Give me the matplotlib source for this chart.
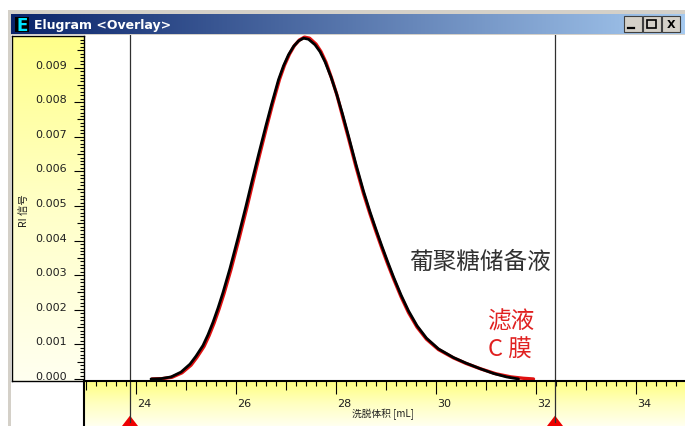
import numpy as np
import matplotlib.pyplot as plt
from matplotlib.patches import Rectangle, Polygon
import matplotlib.transforms as mtransforms

plt.rcParams['font.family'] = ['DejaVu Sans', 'Noto Sans CJK SC']
CJK = ['Noto Sans CJK SC', 'DejaVu Sans']

# elution volume [mL] / RI signal
stock_ml = [24.30, 24.50, 24.70, 24.90, 25.08, 25.20, 25.34, 25.44, 25.54, 25.64,
            25.74, 25.88, 26.04, 26.20, 26.33, 26.45, 26.60, 26.71, 26.85, 26.95,
            27.05, 27.15, 27.25, 27.35, 27.45, 27.58, 27.68, 27.78, 27.90, 28.01,
            28.13, 28.25, 28.40, 28.55, 28.68, 28.80, 28.91, 29.03, 29.15, 29.30,
            29.45, 29.62, 29.81, 30.05, 30.35, 30.60, 30.88, 31.15, 31.41, 31.65]
stock_ri = [0.0, 0.00001, 0.00006, 0.00020, 0.00043, 0.00066, 0.00097, 0.00128, 0.00164, 0.00205,
            0.00250, 0.00320, 0.00408, 0.00500, 0.00578, 0.00648, 0.00733, 0.00793, 0.00865, 0.00905,
            0.00937, 0.00961, 0.00977, 0.00985, 0.00982, 0.00966, 0.00946, 0.00917, 0.00873, 0.00825,
            0.00766, 0.00702, 0.00620, 0.00543, 0.00483, 0.00432, 0.00387, 0.00340, 0.00295, 0.00243,
            0.00197, 0.00154, 0.00118, 0.00087, 0.00062, 0.00046, 0.00030, 0.00016, 0.00006, 0.0]

filtrate_ml = [24.32, 24.52, 24.72, 24.92, 25.10, 25.22, 25.36, 25.46, 25.56, 25.66,
               25.76, 25.90, 26.06, 26.22, 26.35, 26.47, 26.62, 26.73, 26.87, 26.97,
               27.07, 27.17, 27.27, 27.37, 27.47, 27.60, 27.70, 27.80, 27.91, 28.02,
               28.13, 28.25, 28.40, 28.55, 28.68, 28.80, 28.91, 29.03, 29.15, 29.30,
               29.45, 29.62, 29.81, 30.05, 30.35, 30.60, 30.90, 31.20, 31.50, 31.75, 31.95]
filtrate_ri = [0.0, 0.00001, 0.00005, 0.00018, 0.00040, 0.00063, 0.00094, 0.00125, 0.00161, 0.00202,
               0.00247, 0.00317, 0.00405, 0.00497, 0.00576, 0.00647, 0.00733, 0.00794, 0.00866, 0.00907,
               0.00939, 0.00964, 0.00980, 0.00988, 0.00985, 0.00968, 0.00946, 0.00915, 0.00870, 0.00820,
               0.00760, 0.00696, 0.00613, 0.00536, 0.00477, 0.00426, 0.00381, 0.00334, 0.00290, 0.00238,
               0.00192, 0.00150, 0.00115, 0.00085, 0.00061, 0.00045, 0.00029, 0.00015, 0.00006, 0.00002, 0.0]

cursor_ml = [23.88, 32.38]
x_tick_values = [24, 26, 28, 30, 32, 34]
y_tick_labels = ['0.000', '0.001', '0.002', '0.003', '0.004', '0.005',
                 '0.006', '0.007', '0.008', '0.009']

W, H = 685, 427
XLIM = (22.96, 34.98)
YLIM = (-0.0000578, 0.009942)


def box(l, t, r, b):
    # pixel box (from top-left) -> figure fraction rect
    return [l / W, 1 - b / H, (r - l) / W, (b - t) / H]


fig = plt.figure(figsize=(W / 100, H / 100), dpi=100)
fig.patch.set_facecolor('white')

# window chrome in pixel coords
bg = fig.add_axes([0, 0, 1, 1], zorder=0)
bg.set_xlim(0, W)
bg.set_ylim(H, 0)
bg.axis('off')
bg.add_patch(Rectangle((8, 11), W - 8, H - 11, facecolor='#d4d0c8', edgecolor='none'))
bg.add_patch(Rectangle((11, 36), W - 11, H - 36, facecolor='white', edgecolor='none'))
grad = np.linspace(0, 1, 256)[None, :]
title_cmap = plt.matplotlib.colors.LinearSegmentedColormap.from_list(
    'tb', [(10 / 255, 36 / 255, 106 / 255), (166 / 255, 202 / 255, 240 / 255)])
bg.imshow(grad, extent=(11, W, 35, 15), aspect='auto', cmap=title_cmap, zorder=1)
bg.add_patch(Rectangle((15, 18), 14, 15, facecolor='black', edgecolor='none', zorder=2))
bg.text(22, 26, 'E', color='#00e5ff', fontsize=12, fontweight='bold',
        ha='center', va='center', zorder=3)
bg.text(34, 25.5, 'Elugram <Overlay>', color='white', fontsize=9, fontweight='bold',
        ha='left', va='center', zorder=3)
for bx in (624, 643, 662):
    bg.add_patch(Rectangle((bx, 17), 18, 16, facecolor='#d4d0c8', edgecolor='#404040',
                           lw=0.8, zorder=2))
bg.plot([628, 634], [29, 29], color='black', lw=1.6, zorder=3)
bg.add_patch(Rectangle((647, 21), 9, 8, facecolor='none', edgecolor='black', lw=1.2, zorder=3))
bg.text(671, 25.5, 'X', color='black', fontsize=8, fontweight='bold',
        ha='center', va='center', zorder=3)

# main plot area
ax = fig.add_axes(box(84, 36, W, 382), zorder=2)
ax.set_xlim(*XLIM)
ax.set_ylim(*YLIM)
ax.set_facecolor('white')
for s in ax.spines.values():
    s.set_visible(False)
ax.set_xticks([])
ax.set_yticks([])
ax.plot(filtrate_ml, filtrate_ri, color='#e01010', lw=2.4, solid_capstyle='round',
        solid_joinstyle='round')
ax.plot(stock_ml, stock_ri, color='black', lw=2.0, solid_capstyle='round',
        solid_joinstyle='round')
for c in cursor_ml:
    ax.axvline(c, color='#303030', lw=0.9)
ax.text(480, 262, '葡聚糖储备液', transform=bg.transData, family=CJK, fontsize=17,
        color='#303030', ha='center', va='center', zorder=5)
ax.text(512, 322, '滤液', transform=bg.transData, family=CJK, fontsize=17,
        color='#e02020', ha='center', va='center', zorder=5)
ax.text(510, 350, 'C 膜', transform=bg.transData, family=CJK, fontsize=17,
        color='#e02020', ha='center', va='center', zorder=5)

# y ruler panel
ay = fig.add_axes(box(12, 37, 84, 382), zorder=3)
ay.set_ylim(YLIM[0], YLIM[1] * (346 - 1) / 346 + YLIM[0] / 346)
ay.set_xlim(0, 1)
ycm = plt.matplotlib.colors.LinearSegmentedColormap.from_list(
    'yp', ['#fffff0', '#ffffc8', '#ffff8a'])
ay.imshow(np.linspace(0, 1, 256)[:, None], extent=(0, 1, 0, 1), transform=ay.transAxes,
          aspect='auto', cmap=ycm, origin='lower')
ay.set_xticks([])
ay.set_yticks([])
for s in ay.spines.values():
    s.set_color('black')
    s.set_linewidth(1.0)
ytr = mtransforms.blended_transform_factory(ay.transAxes, ay.transData)
yfine = np.arange(0, 0.00995, 0.0001)
for i, v in enumerate(yfine):
    ln = 10 if i % 10 == 0 else (7 if i % 5 == 0 else 4)
    ay.plot([1 - ln / 72, 1], [v, v], color='black', lw=0.8, transform=ytr,
            solid_capstyle='butt')
for i, lab in enumerate(y_tick_labels):
    ay.text(0.76, i * 0.001, lab, transform=ytr, fontsize=8, color='#202020',
            ha='right', va='baseline')
ay.text(24, 211, 'RI 信号', transform=bg.transData, family=CJK, fontsize=7.5,
        rotation=90, ha='center', va='center', color='#202020', zorder=5)

# x ruler panel
axx = fig.add_axes(box(84, 382, W, H), zorder=3)
axx.set_xlim(*XLIM)
axx.set_ylim(0, 1)
xcm = plt.matplotlib.colors.LinearSegmentedColormap.from_list(
    'xp', ['#fffff0', '#ffffc0', '#ffff80'])
axx.imshow(np.linspace(0, 1, 256)[:, None], extent=(0, 1, 0, 1), transform=axx.transAxes,
           aspect='auto', cmap=xcm, origin='lower')
axx.set_xticks([])
axx.set_yticks([])
for k, s in axx.spines.items():
    s.set_visible(k in ('top', 'left'))
    s.set_color('black')
    s.set_linewidth(1.5)
xtr = mtransforms.blended_transform_factory(axx.transData, axx.transAxes)
xfine = np.arange(23.0, 35.01, 0.2)
for v in xfine:
    r = round(v * 5)
    ln = 13 if r % 10 == 0 else (9 if r % 5 == 0 else 5)
    axx.plot([v, v], [1, 1 - ln / 45], color='black', lw=0.8, transform=xtr,
             solid_capstyle='butt')
for v in x_tick_values:
    axx.text(v + 0.02, 0.62, str(v), transform=xtr, fontsize=8, color='#202020',
             ha='left', va='top')
axx.text(383, 414, '洗脱体积 [mL]', transform=bg.transData, family=CJK, fontsize=7,
         ha='center', va='center', color='#202020', zorder=5)
for c in cursor_ml:
    axx.plot([c, c], [1, 0.1], color='#303030', lw=0.9, transform=xtr)
    axx.add_patch(Polygon([[c - 0.16, 0.0], [c + 0.16, 0.0], [c, 0.23]], closed=True,
                          facecolor='#ee0000', edgecolor='none', transform=xtr,
                          clip_on=False))

fig.savefig('out.png', dpi=100)
